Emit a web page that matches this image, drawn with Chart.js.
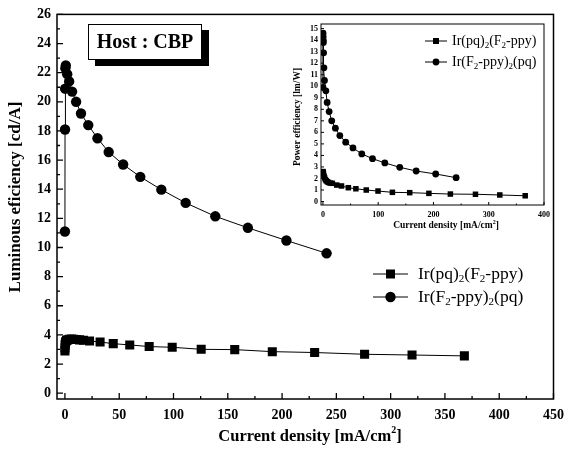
<!DOCTYPE html>
<html>
<head>
<meta charset="utf-8">
<script src="https://cdn.jsdelivr.net/npm/chart.js@4.4.1/dist/chart.umd.min.js"></script>
<style>
  html, body { margin: 0; padding: 0; background: #fff; }
  #wrap { position: relative; width: 572px; height: 456px; }
  #main { position: absolute; left: 0; top: 0; }
  #inset { position: absolute; left: 290px; top: 14px; }
</style>
</head>
<body>
<div id="wrap">
  <canvas id="main" width="572" height="456"></canvas>
  <canvas id="inset" width="265" height="222"></canvas>
</div>
<script>
/* ---------- data ---------- */
const seriesNames = ['Ir(pq)2(F2-ppy)', 'Ir(F2-ppy)2(pq)'];

// main plot: luminous efficiency vs current density
const sqX = [0, 0.1, 0.2, 0.4, 0.8, 1.5, 2.5, 4, 6, 8, 10.5, 13.5, 17, 22.7, 32.4, 44.5, 59.7, 77.6, 98.8, 125.5, 156.4, 191, 230, 276, 319.7, 367.9];
const sqY = [2.9, 3.1, 3.3, 3.45, 3.55, 3.62, 3.66, 3.7, 3.71, 3.7, 3.69, 3.66, 3.63, 3.58, 3.51, 3.40, 3.31, 3.2, 3.15, 3.01, 2.99, 2.85, 2.79, 2.67, 2.62, 2.56];
const circX = [0, 0.1, 0.2, 0.4, 0.8, 2.1, 3.9, 6.6, 10.3, 14.8, 21.5, 30, 40.3, 53.6, 69.4, 88.8, 111.2, 138.5, 168.5, 204, 241];
const circY = [11.1, 18.1, 20.9, 22.3, 22.5, 21.9, 21.4, 20.7, 20.0, 19.2, 18.4, 17.5, 16.55, 15.7, 14.85, 13.97, 13.06, 12.14, 11.35, 10.48, 9.6];

// inset: power efficiency vs current density
const psX = [0, 0.5, 1, 2, 3, 4.5, 6, 8, 10, 13, 17, 25, 33.6, 46, 59.6, 78.4, 99.7, 125.7, 157, 191.7, 230.6, 276, 320, 366];
const psY = [2.6, 2.55, 2.4, 2.2, 2.05, 1.9, 1.8, 1.72, 1.66, 1.6, 1.58, 1.43, 1.35, 1.2, 1.11, 1.0, 0.91, 0.8, 0.77, 0.71, 0.65, 0.63, 0.57, 0.5];
const pcX = [0, 0.2, 0.4, 0.6, 0.8, 1.2, 1.8, 2.8, 5.3, 7.6, 11.2, 15.9, 22.5, 30.6, 41.2, 54.3, 70.3, 89.7, 112, 139, 168.7, 204, 241];
const pcY = [9.9, 14.6, 14.3, 14.0, 13.8, 12.9, 11.6, 10.5, 9.6, 8.6, 7.8, 7.0, 6.36, 5.72, 5.15, 4.65, 4.13, 3.72, 3.35, 2.97, 2.65, 2.39, 2.07];

// tick labels
const mainXTicks = [0, 50, 100, 150, 200, 250, 300, 350, 400, 450];
const mainYTicks = [0, 2, 4, 6, 8, 10, 12, 14, 16, 18, 20, 22, 24, 26];
const insetXTicks = [0, 100, 200, 300, 400];
const insetYTicks = [0, 1, 2, 3, 4, 5, 6, 7, 8, 9, 10, 11, 12, 13, 14, 15];

const FONT = '"Liberation Serif", "Times New Roman", serif';

function pts(xs, ys) { return xs.map((x, i) => ({ x: x, y: ys[i] })); }

// text with digits as sub- or superscripts
function richText(ctx, str, x, y, size, bold, mode, align) {
  const w = bold ? 'bold ' : '';
  const parts = str.split(/(\d)/).filter(s => s !== '');
  const small = Math.round(size * 0.62);
  let total = 0;
  parts.forEach(p => {
    ctx.font = w + (/\d/.test(p) ? small : size) + 'px ' + FONT;
    total += ctx.measureText(p).width;
  });
  let cx = align === 'center' ? x - total / 2 : x;
  ctx.textAlign = 'left';
  ctx.textBaseline = 'middle';
  parts.forEach(p => {
    const isNum = /\d/.test(p);
    ctx.font = w + (isNum ? small : size) + 'px ' + FONT;
    const dy = isNum ? (mode === 'sup' ? -size * 0.38 : size * 0.3) : 0;
    ctx.fillText(p, cx, y + dy);
    cx += ctx.measureText(p).width;
  });
}

function drawMarker(ctx, style, x, y, r) {
  ctx.beginPath();
  if (style === 'rect') ctx.rect(x - r, y - r, 2 * r, 2 * r);
  else ctx.arc(x, y, r, 0, Math.PI * 2);
  ctx.fill();
}

// frame + inward ticks + titles + legend
function framePlugin(o) {
  return {
    id: 'frame',
    afterDraw(chart) {
      const ctx = chart.ctx, a = chart.chartArea;
      const xs = chart.scales.x, ys = chart.scales.y;
      ctx.save();
      ctx.strokeStyle = '#000';
      ctx.fillStyle = '#000';
      ctx.lineWidth = o.lw;
      ctx.strokeRect(a.left, a.top, a.right - a.left, a.bottom - a.top);

      ctx.lineWidth = o.tickW;
      ctx.beginPath();
      for (let v = o.xMinor[0]; v <= xs.max; v += o.xMinor[1]) {
        const px = xs.getPixelForValue(v);
        const major = Math.abs(v / o.xMajor - Math.round(v / o.xMajor)) < 1e-6;
        const len = major ? o.tickLen : o.tickLen / 2;
        ctx.moveTo(px, a.bottom); ctx.lineTo(px, a.bottom - len);
      }
      for (let v = 0; v <= ys.max; v += o.yMinor) {
        const py = ys.getPixelForValue(v);
        const major = Math.abs(v / o.yMajor - Math.round(v / o.yMajor)) < 1e-6;
        const len = major ? o.tickLen : o.tickLen / 2;
        ctx.moveTo(a.left, py); ctx.lineTo(a.left + len, py);
      }
      ctx.stroke();

      // axis titles
      ctx.fillStyle = '#000';
      richText(ctx, o.xTitle, o.xTitlePos[0], o.xTitlePos[1], o.xTitleSize, true, 'sup', 'center');
      ctx.save();
      ctx.translate(o.yTitlePos[0], o.yTitlePos[1]);
      ctx.rotate(-Math.PI / 2);
      ctx.font = 'bold ' + o.yTitleSize + 'px ' + FONT;
      ctx.textAlign = 'center';
      ctx.textBaseline = 'middle';
      ctx.fillText(o.yTitle, 0, 0);
      ctx.restore();

      // legend
      const L = o.legend;
      chart.data.datasets.forEach((ds, i) => {
        const y = L.y + i * L.gap;
        ctx.lineWidth = 1;
        ctx.beginPath();
        ctx.moveTo(L.x, y); ctx.lineTo(L.x + L.len, y);
        ctx.stroke();
        const r = ds.pointStyle === 'rect' ? L.sq : L.circ;
        drawMarker(ctx, ds.pointStyle, L.x + L.len / 2, y, r);
        richText(ctx, ds.label, L.x + L.len + L.pad, y, L.size, false, 'sub', 'left');
      });

      if (o.extra) o.extra(ctx);
      ctx.restore();
    }
  };
}

function fixedTicks(list) {
  return function (scale) { scale.ticks = list.map(v => ({ value: v })); };
}

/* ---------- main chart ---------- */
new Chart(document.getElementById('main'), {
  type: 'line',
  data: {
    datasets: [
      { label: seriesNames[0], data: pts(sqX, sqY), pointStyle: 'rect', pointRadius: 6.4,
        borderColor: '#000', backgroundColor: '#000', borderWidth: 1, pointBorderWidth: 0, tension: 0 },
      { label: seriesNames[1], data: pts(circX, circY), pointStyle: 'circle', pointRadius: 5.2,
        borderColor: '#000', backgroundColor: '#000', borderWidth: 1, pointBorderWidth: 0, tension: 0 }
    ]
  },
  options: {
    responsive: false, animation: false, events: [],
    layout: { padding: { left: 0, top: 13, right: 11, bottom: 0 } },
    plugins: { legend: { display: false }, tooltip: { enabled: false } },
    scales: {
      x: {
        type: 'linear', min: -7.3, max: 450,
        afterBuildTicks: fixedTicks(mainXTicks),
        afterFit(s) { s.height = 57; },
        grid: { display: false, drawTicks: false },
        border: { display: false },
        ticks: { color: '#000', padding: 8, maxRotation: 0, autoSkip: false,
                 font: { family: FONT, size: 14, weight: 'bold' } }
      },
      y: {
        type: 'linear', min: -0.4, max: 26,
        afterBuildTicks: fixedTicks(mainYTicks),
        afterFit(s) { s.width = 57; },
        grid: { display: false, drawTicks: false },
        border: { display: false },
        ticks: { color: '#000', padding: 6, autoSkip: false,
                 font: { family: FONT, size: 14, weight: 'bold' } }
      }
    }
  },
  plugins: [framePlugin({
    lw: 1.5, tickW: 1.3, tickLen: 6,
    xMajor: 50, xMinor: [0, 25], yMajor: 2, yMinor: 1,
    xTitle: 'Current density [mA/cm2]', xTitlePos: [310, 437], xTitleSize: 16.5,
    yTitle: 'Luminous eficiency [cd/A]', yTitlePos: [16, 197], yTitleSize: 17,
    legend: { x: 373, y: 274, gap: 23, len: 35, pad: 10, size: 17.5, sq: 4.5, circ: 5.2 },
    extra(ctx) {
      // "Host : CBP" box with drop shadow
      ctx.fillStyle = '#000';
      ctx.fillRect(95, 30, 114, 36);
      ctx.fillStyle = '#fff';
      ctx.fillRect(88, 24, 114, 36);
      ctx.strokeStyle = '#000';
      ctx.lineWidth = 1;
      ctx.strokeRect(88.5, 24.5, 113, 35);
      ctx.fillStyle = '#000';
      ctx.font = 'bold 20px ' + FONT;
      ctx.textAlign = 'center';
      ctx.textBaseline = 'middle';
      ctx.fillText('Host : CBP', 145, 43);
    }
  })]
});

/* ---------- inset chart ---------- */
new Chart(document.getElementById('inset'), {
  type: 'line',
  data: {
    datasets: [
      { label: seriesNames[0], data: pts(psX, psY), pointStyle: 'rect', pointRadius: 3.9,
        borderColor: '#000', backgroundColor: '#000', borderWidth: 1, pointBorderWidth: 0, tension: 0 },
      { label: seriesNames[1], data: pts(pcX, pcY), pointStyle: 'circle', pointRadius: 3.4,
        borderColor: '#000', backgroundColor: '#000', borderWidth: 1, pointBorderWidth: 0, tension: 0 }
    ]
  },
  options: {
    responsive: false, animation: false, events: [],
    layout: { padding: { left: 0, top: 10, right: 6, bottom: 0 } },
    plugins: { legend: { display: false }, tooltip: { enabled: false } },
    scales: {
      x: {
        type: 'linear', min: -3.5, max: 400,
        afterBuildTicks: fixedTicks(insetXTicks),
        afterFit(s) { s.height = 31; },
        grid: { display: false, drawTicks: false },
        border: { display: false },
        ticks: { color: '#000', padding: 5, maxRotation: 0, autoSkip: false,
                 font: { family: FONT, size: 8, weight: 'bold' } }
      },
      y: {
        type: 'linear', min: -0.3, max: 15.4,
        afterBuildTicks: fixedTicks(insetYTicks),
        afterFit(s) { s.width = 31; },
        grid: { display: false, drawTicks: false },
        border: { display: false },
        ticks: { color: '#000', padding: 3, autoSkip: false,
                 font: { family: FONT, size: 8, weight: 'bold' } }
      }
    }
  },
  plugins: [framePlugin({
    lw: 1, tickW: 1, tickLen: 3,
    xMajor: 100, xMinor: [0, 50], yMajor: 1, yMinor: 1,
    xTitle: 'Current density [mA/cm2]', xTitlePos: [156, 212], xTitleSize: 9.5,
    yTitle: 'Power efficiency [lm/W]', yTitlePos: [8, 103], yTitleSize: 9.5,
    legend: { x: 135, y: 27, gap: 21, len: 22, pad: 5, size: 14, sq: 3, circ: 3.4 }
  })]
});
</script>
</body>
</html>
